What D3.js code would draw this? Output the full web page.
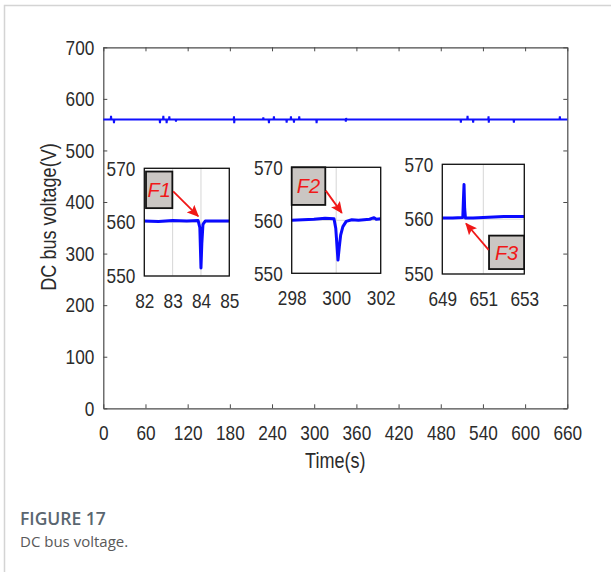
<!DOCTYPE html>
<html><head><meta charset="utf-8">
<script src="https://cdn.jsdelivr.net/npm/d3@7/dist/d3.min.js"></script>
<style>
body{margin:0;background:#fff;}
svg{display:block;}
.tk text{font-family:'Liberation Sans',Arial,sans-serif;font-size:21px;fill:#2b2b2b;}
</style></head>
<body><svg id="c" width="611" height="572"></svg>
<script>
// ---- main series (time s, DC bus voltage V) ----
const mainT = [0,10.5,11,11.5,14.7,15.2,15.7,80.1,80.6,81.1,84.9,85.4,85.9,89.6,90.1,90.6,93.4,93.9,94.4,102.9,103.4,103.9,
  185.4,185.9,186.2,186.7,227.1,227.6,228.1,235.1,235.6,236.1,242.2,242.7,243.2,260.3,260.8,261.3,266.4,266.9,267.4,
  270.7,271.2,271.7,278.2,278.7,279.2,302.9,303.4,303.9,344.5,345,345.4,345.9,508.1,508.6,509.1,517.6,518.1,518.6,
  525.6,526.1,526.6,547.5,548,548.3,548.8,583.5,584,584.5,648.9,649.4,649.9,660];
const mainV = [560,560,567,560,560,553,560,560,553,560,560,567,560,560,553,560,560,566,560,560,556,560,
  560,566,553,560,560,564,560,560,553,560,560,566,560,560,554,560,560,566,560,
  560,554,560,560,566,560,560,553,560,560,556,563,560,560,554,560,560,567,560,
  560,554,560,560,566,554,560,560,554,560,560,566,560,560];
const mainXTicks = [0,60,120,180,240,300,360,420,480,540,600,660];
const mainYTicks = [0,100,200,300,400,500,600,700];

// ---- inset F1 ----
const f1T = [82,82.5,83,83.5,83.9,83.96,84.0,84.03,84.07,84.15,84.5,85];
const f1V = [560.2,560.1,560.3,560.2,560.3,559,551.5,556,559.6,560.2,560.2,560.2];
const f1XTicks = [82,83,84,85];
// ---- inset F2 ----
const f2T = [298,298.5,299,299.5,299.9,299.98,300.08,300.14,300.2,300.3,300.45,300.7,301,301.5,301.7,301.8,302];
const f2V = [560,560.1,560.2,560.4,560.3,558.5,552.5,555,557.2,558.8,559.8,560.1,560,560.2,560.5,560.2,560.3];
const f2XTicks = [298,300,302];
// ---- inset F3 ----
const f3T = [649,649.5,650,650.03,650.06,650.09,650.13,650.5,651,651.5,652,652.5,653];
const f3V = [560.2,560.2,560.3,563.5,566.3,562,560.2,560.2,560.3,560.4,560.5,560.5,560.5];
const f3XTicks = [649,651,653];
const insetYTicks = [550,560,570];
// fault labels: box corners [t0,t1,v0,v1], arrow [tStart,vStart,tEnd,vEnd]
const faultNames = ["F1","F2","F3"];
const faultBoxes = [[82.06,82.99,569.4,562.6],[298.0,299.51,570,562.9],[651.28,652.99,557.0,550.9]];
const faultArrows = [[83.02,565.7,83.9,561.1],[299.53,565.6,300.25,561.4],[651.26,554.4,650.16,559.2]];

const SX = 0.82; // horizontal compression of the plot font
const svg = d3.select("#c");
// outer frame
svg.append("path").attr("d","M4.5,572 V5.5 H611").attr("fill","none").attr("stroke","#d4d4d4").attr("stroke-width",1.5);

const L=103.3,R=567.3,T=47.3,B=408.3;
const x = d3.scaleLinear().domain([0,660]).range([L,R]);
const y = d3.scaleLinear().domain([0,700]).range([B,T]);
const axCol="#4a4a4a";
function narrow(g){
  g.selectAll("text").each(function(){
    const t=d3.select(this); const xx=+t.attr("x")||0;
    t.attr("x",xx/SX).attr("transform",`scale(${SX},1)`);
  });
}
function styleAxis(g){g.select(".domain").attr("stroke",axCol).attr("stroke-width",1.2);g.selectAll(".tick line").attr("stroke",axCol).attr("stroke-width",1);g.attr("class","tk");g.selectAll("text").attr("fill","#2b2b2b");narrow(g);}
svg.append("g").attr("transform",`translate(0,${B})`).call(d3.axisBottom(x).tickValues(mainXTicks).tickSizeInner(-4).tickSizeOuter(0).tickPadding(17)).call(styleAxis);
svg.append("g").attr("transform",`translate(${L},0)`).call(d3.axisLeft(y).tickValues(mainYTicks).tickSizeInner(-4).tickSizeOuter(0).tickPadding(9)).call(styleAxis);
svg.append("g").attr("transform",`translate(0,${T})`).call(d3.axisTop(x).tickValues(mainXTicks).tickSizeInner(-4).tickSizeOuter(0).tickFormat("")).call(styleAxis);
svg.append("g").attr("transform",`translate(${R},0)`).call(d3.axisRight(y).tickValues(mainYTicks).tickSizeInner(-4).tickSizeOuter(0).tickFormat("")).call(styleAxis);

const mainData = mainT.map((t,i)=>[t,mainV[i]]);
svg.append("path").datum(mainData).attr("fill","none").attr("stroke","#1010ff").attr("stroke-width",2)
  .attr("d",d3.line().x(d=>x(d[0])).y(d=>y(d[1])));

// titles
svg.append("text").attr("transform",`translate(${(L+R)/2},468) scale(${SX},1)`).attr("text-anchor","middle")
  .style("font-family","'Liberation Sans',Arial,sans-serif").style("font-size","22px").attr("fill","#2b2b2b").text("Time(s)");
svg.append("text").attr("transform",`translate(56,217) rotate(-90) scale(${SX},1)`).attr("text-anchor","middle")
  .style("font-family","'Liberation Sans',Arial,sans-serif").style("font-size","22px").attr("fill","#2b2b2b").text("DC bus voltage(V)");

// insets
const insets = [
  {box:[144.3,229.3,168.3,276], dom:[82,85], T:f1T, V:f1V, xt:f1XTicks},
  {box:[291.7,380.7,167.3,273.3], dom:[298,302], T:f2T, V:f2V, xt:f2XTicks},
  {box:[442.3,524.3,164.3,274], dom:[649,653], T:f3T, V:f3V, xt:f3XTicks}
];
svg.append("defs").append("marker").attr("id","ah").attr("viewBox","0 0 10 10").attr("refX",9).attr("refY",5)
  .attr("markerWidth",12).attr("markerHeight",12).attr("markerUnits","userSpaceOnUse").attr("orient","auto")
  .append("path").attr("d","M0,0.5 L10,5 L0,9.5 L2,5 Z").attr("fill","#f01818");

insets.forEach((ins,k)=>{
  const [x0,x1,y0,y1]=ins.box;
  const xs=d3.scaleLinear().domain(ins.dom).range([x0,x1]);
  const ys=d3.scaleLinear().domain([550,570]).range([y1,y0]);
  const g=svg.append("g");
  g.append("rect").attr("x",x0).attr("y",y0).attr("width",x1-x0).attr("height",y1-y0).attr("fill","#fff");
  // grid
  g.selectAll(".gx").data(ins.xt).enter().append("line").attr("x1",d=>xs(d)).attr("x2",d=>xs(d)).attr("y1",y0).attr("y2",y1)
    .attr("stroke","#d6d6d6").attr("stroke-width",1);
  g.selectAll(".gy").data(insetYTicks).enter().append("line").attr("y1",d=>ys(d)).attr("y2",d=>ys(d)).attr("x1",x0).attr("x2",x1)
    .attr("stroke","#d6d6d6").attr("stroke-width",1);
  g.append("path").datum(ins.T.map((t,i)=>[t,ins.V[i]])).attr("fill","none").attr("stroke","#0a0aff").attr("stroke-width",3)
    .attr("stroke-linejoin","round").attr("d",d3.line().x(d=>xs(d[0])).y(d=>ys(d[1])));
  g.append("rect").attr("x",x0).attr("y",y0).attr("width",x1-x0).attr("height",y1-y0).attr("fill","none").attr("stroke","#111").attr("stroke-width",1.3);
  const ax=g.append("g").attr("transform",`translate(0,${y1})`).call(d3.axisBottom(xs).tickValues(ins.xt).tickFormat(d3.format("d")).tickSize(0).tickPadding(17));
  ax.select(".domain").remove(); ax.attr("class","tk"); narrow(ax);
  const ay=g.append("g").attr("transform",`translate(${x0},0)`).call(d3.axisLeft(ys).tickValues(insetYTicks).tickFormat(d3.format("d")).tickSize(0).tickPadding(9));
  ay.select(".domain").remove(); ay.attr("class","tk"); narrow(ay);
  // fault box
  const fb=faultBoxes[k], fa=faultArrows[k];
  g.append("rect").attr("x",xs(fb[0])).attr("y",ys(fb[2])).attr("width",xs(fb[1])-xs(fb[0])).attr("height",ys(fb[3])-ys(fb[2]))
    .attr("fill","#cac6c3").attr("stroke","#111").attr("stroke-width",1.8);
  g.append("text").attr("x",(xs(fb[0])+xs(fb[1]))/2).attr("y",(ys(fb[2])+ys(fb[3]))/2).attr("dy","0.36em").attr("text-anchor","middle")
    .style("font-family","'Liberation Sans',Arial,sans-serif").style("font-size","20px").style("font-style","italic").attr("fill","#f01818").text(faultNames[k]);
  g.append("line").attr("x1",xs(fa[0])).attr("y1",ys(fa[1])).attr("x2",xs(fa[2])).attr("y2",ys(fa[3]))
    .attr("stroke","#f01818").attr("stroke-width",1.8).attr("marker-end","url(#ah)");
});

// caption
svg.append("text").attr("x",20).attr("y",525).style("font-family","'Open Sans',sans-serif").style("font-size","17.5px").style("font-weight","600")
  .attr("fill","#5a6670").text("FIGURE 17");
svg.append("text").attr("x",20).attr("y",547).style("font-family","'Open Sans',sans-serif").style("font-size","15px")
  .attr("fill","#595959").text("DC bus voltage.");
</script></body></html>
